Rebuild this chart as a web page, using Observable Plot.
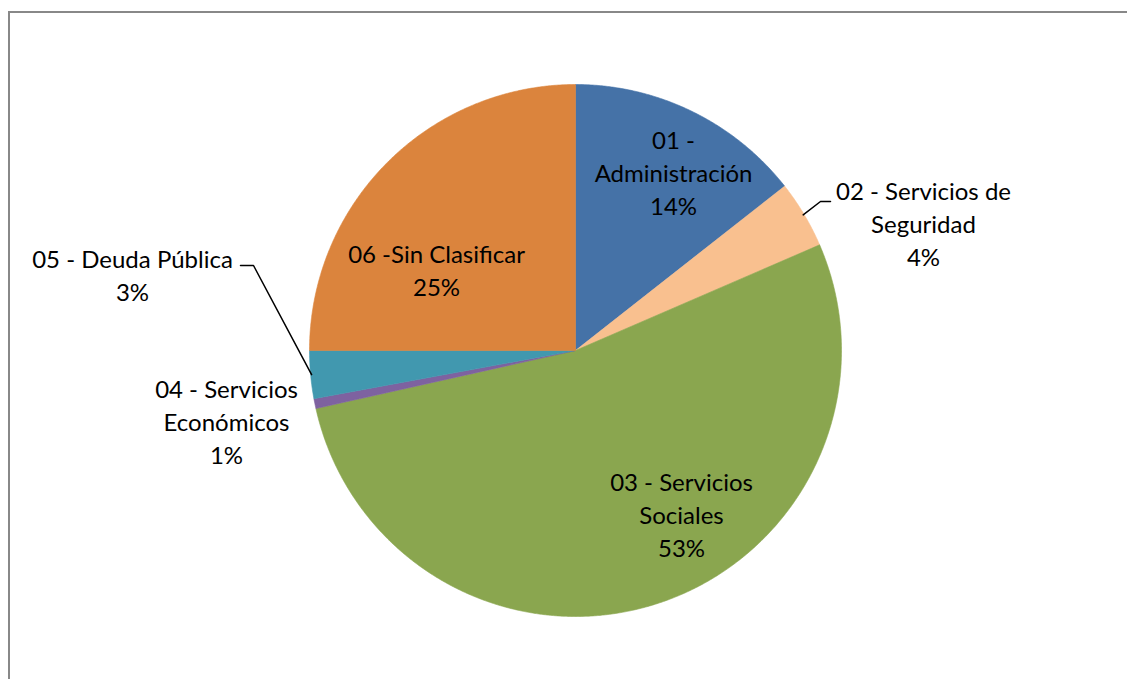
<!DOCTYPE html>
<html>
<head>
<meta charset="utf-8">
<script src="https://cdn.jsdelivr.net/npm/d3@7"></script>
<script src="https://cdn.jsdelivr.net/npm/@observablehq/plot@0.6"></script>
<style>
  html, body { margin: 0; padding: 0; background: #fff; overflow: hidden; width: 1127px; height: 679px; }
  #frame { position: absolute; left: 8px; top: 11px; width: 1300px; height: 900px; border: 2px solid #888; box-sizing: border-box; }
  #chart { position: absolute; left: 0; top: 0; }
</style>
</head>
<body>
<div id="frame"></div>
<div id="chart"></div>
<script>
// ---- data ----
const categories = ["01 - Administración", "02 - Servicios de Seguridad", "03 - Servicios Sociales", "04 - Servicios Económicos", "05 - Deuda Pública", "06 -Sin Clasificar"];
const values = [14.4, 4.1, 53.0, 0.6, 2.9, 25.0];
const labelText = [
  "01 -\nAdministración",
  "02 - Servicios de\nSeguridad",
  "03 - Servicios\nSociales",
  "04 - Servicios\nEconómicos",
  "05 - Deuda Pública",
  "06 -Sin Clasificar"
];
const colors = ["#4572A7", "#F9C08F", "#8AA64F", "#7E62A0", "#4198AF", "#DB843D"];

// ---- layout ----
const W = 1127, H = 679;
const cx = 575, cy = 350, R = 266;
// label block centres relative to pie centre
const labelPos = [[98, -179], [348, -128], [106, 163], [-349, 70], [-443, -77], [-139, -82]];
// leader lines: [elbow, end] relative to pie centre (null = none)
const leaders = [null, [[245, -149], [255, -149]], null, null, [[-322, -85], [-335, -85]], null];

const total = d3.sum(values);
const arcs = d3.pie().sort(null).value(d => d)(values);
const pt = (a, r) => ({x: r * Math.sin(a), y: -r * Math.cos(a)});

const marks = [];
arcs.forEach((a, i) => {
  const pts = [{x: 0, y: 0}];
  const n = Math.max(4, Math.ceil((a.endAngle - a.startAngle) / 0.005));
  for (let k = 0; k <= n; k++) pts.push(pt(a.startAngle + (a.endAngle - a.startAngle) * k / n, R));
  pts.push({x: 0, y: 0});
  marks.push(Plot.line(pts, {x: "x", y: "y", fill: colors[i], stroke: colors[i], strokeWidth: 0.6, curve: "linear"}));
});

arcs.forEach((a, i) => {
  if (!leaders[i]) return;
  const mid = (a.startAngle + a.endAngle) / 2;
  const p0 = pt(mid, R - 1);
  const pts = [p0, {x: leaders[i][0][0], y: leaders[i][0][1]}, {x: leaders[i][1][0], y: leaders[i][1][1]}];
  marks.push(Plot.line(pts, {x: "x", y: "y", stroke: "#000", strokeWidth: 1.5}));
});

const labels = categories.map((c, i) => ({
  text: labelText[i] + "\n" + Math.round(values[i] / total * 100) + "%",
  x: labelPos[i][0], y: labelPos[i][1]
}));
marks.push(Plot.text(labels, {x: "x", y: "y", text: "text", fill: "#000", fontSize: 24, lineHeight: 1.38, textAnchor: "middle", lineAnchor: "middle"}));

const chart = Plot.plot({
  width: W, height: H,
  margin: 0,
  x: {domain: [-cx, W - cx], range: [0, W], axis: null},
  y: {domain: [-cy, H - cy], range: [0, H], axis: null},
  style: {fontFamily: "Lato, 'Open Sans', sans-serif", background: "transparent", overflow: "visible"},
  marks
});
document.getElementById("chart").appendChild(chart);
</script>
</body>
</html>
